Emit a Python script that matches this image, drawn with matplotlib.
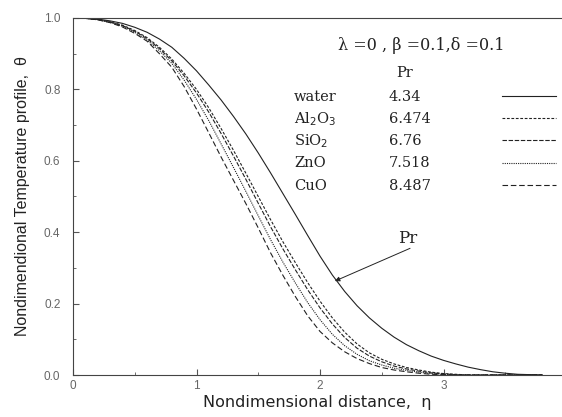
import matplotlib
matplotlib.use("Agg")
import matplotlib.pyplot as plt
from matplotlib.ticker import MultipleLocator
from matplotlib.lines import Line2D

# --- Data ---
eta = [0.0, 0.1, 0.2, 0.3, 0.4, 0.5, 0.6, 0.7, 0.8, 0.9,
       1.0, 1.1, 1.2, 1.3, 1.4, 1.5, 1.6, 1.7, 1.8, 1.9,
       2.0, 2.1, 2.2, 2.3, 2.4, 2.5, 2.6, 2.7, 2.8, 2.9,
       3.0, 3.1, 3.2, 3.3, 3.4, 3.5, 3.6, 3.7, 3.8]

theta_water = [1.000, 0.999, 0.997, 0.992, 0.985, 0.974, 0.960, 0.941, 0.918, 0.887,
               0.852, 0.812, 0.770, 0.724, 0.675, 0.622, 0.566, 0.508, 0.450, 0.391,
               0.333, 0.280, 0.234, 0.194, 0.160, 0.131, 0.106, 0.085, 0.068, 0.053,
               0.041, 0.031, 0.022, 0.015, 0.009, 0.005, 0.002, 0.001, 0.000]
theta_al2o3 = [1.000, 0.999, 0.996, 0.989, 0.980, 0.965, 0.945, 0.918, 0.885, 0.845,
               0.800, 0.748, 0.690, 0.629, 0.565, 0.500, 0.435, 0.373, 0.315, 0.259,
               0.207, 0.160, 0.120, 0.087, 0.062, 0.044, 0.031, 0.021, 0.014, 0.008,
               0.004, 0.002, 0.000, 0.000, 0.000, 0.000, 0.000, 0.000, 0.000]
theta_sio2 = [1.000, 0.999, 0.996, 0.989, 0.979, 0.963, 0.942, 0.914, 0.880, 0.838,
              0.790, 0.736, 0.676, 0.613, 0.548, 0.481, 0.415, 0.353, 0.295, 0.239,
              0.188, 0.143, 0.105, 0.075, 0.053, 0.037, 0.025, 0.017, 0.011, 0.006,
              0.003, 0.001, 0.000, 0.000, 0.000, 0.000, 0.000, 0.000, 0.000]
theta_zno = [1.000, 0.999, 0.995, 0.988, 0.977, 0.960, 0.938, 0.908, 0.873, 0.826,
             0.772, 0.712, 0.647, 0.581, 0.514, 0.446, 0.379, 0.316, 0.258, 0.203,
             0.155, 0.114, 0.082, 0.058, 0.040, 0.028, 0.019, 0.013, 0.008, 0.004,
             0.002, 0.001, 0.000, 0.000, 0.000, 0.000, 0.000, 0.000, 0.000]
theta_cuo = [1.000, 0.999, 0.995, 0.987, 0.975, 0.957, 0.935, 0.900, 0.862, 0.808,
             0.745, 0.678, 0.610, 0.545, 0.480, 0.412, 0.342, 0.279, 0.220, 0.166,
             0.122, 0.090, 0.065, 0.046, 0.032, 0.021, 0.014, 0.009, 0.005, 0.002,
             0.001, 0.000, 0.000, 0.000, 0.000, 0.000, 0.000, 0.000, 0.000]

fluids = ["water", "Al$_2$O$_3$", "SiO$_2$", "ZnO", "CuO"]
prandtl = ["4.34", "6.474", "6.76", "7.518", "8.487"]

# --- Styles ---
LINE_STYLES = ["-", (0, (2.5, 1.5)), (0, (4, 1.5)), (0, (1, 1)), (0, (5, 2.5))]
SERIF = "DejaVu Serif"
INK = "#222222"
TICK_GREY = "#666666"

fig = plt.figure(figsize=(5.62, 4.17), dpi=100)
ax = fig.add_axes([73 / 562, 42 / 417, 489 / 562, 357 / 417])

series = [theta_water, theta_al2o3, theta_sio2, theta_zno, theta_cuo]
handles = []
for vals, ls in zip(series, LINE_STYLES):
    ax.plot(eta, vals, color=INK, lw=0.8, linestyle=ls)
    handles.append(Line2D([], [], color=INK, lw=0.8, linestyle=ls))

ax.set_xlim(0, 489 / 123.5)
ax.set_ylim(0, 1.0)
ax.xaxis.set_major_locator(MultipleLocator(1))
ax.xaxis.set_minor_locator(MultipleLocator(0.5))
ax.yaxis.set_major_locator(MultipleLocator(0.2))
ax.yaxis.set_minor_locator(MultipleLocator(0.1))
ax.yaxis.set_major_formatter(plt.FormatStrFormatter("%.1f"))
ax.tick_params(which="both", direction="in", labelsize=8.5,
               labelcolor=TICK_GREY, color="#555555")
ax.tick_params(which="major", length=4)
ax.tick_params(which="minor", length=2.5)
ax.tick_params(axis="y", pad=9)
for lab in ax.get_xticklabels() + ax.get_yticklabels():
    lab.set_fontfamily("Liberation Sans")
ax.spines["right"].set_visible(False)
for s in ["left", "bottom", "top"]:
    ax.spines[s].set_color("#444444")
    ax.spines[s].set_linewidth(0.8)

ax.set_xlabel("Nondimensional distance,  η", fontsize=11.5,
              family="DejaVu Sans", labelpad=2, color=INK)
ax.set_ylabel("Nondimendional Temperature profile,  θ", fontsize=11.5,
              family="Liberation Sans", labelpad=10, color=INK)

# parameter line and table-style legend
ax.text(0.542, 0.924, "λ =0 , β =0.1,δ =0.1", transform=ax.transAxes,
        fontsize=11.5, family=SERIF, color=INK, va="center")
ax.text(0.66, 0.845, "Pr", transform=ax.transAxes, fontsize=10.5,
        family=SERIF, color=INK, va="center")
row_y = [0.78, 0.7175, 0.655, 0.5925, 0.53]
for name, pr, y in zip(fluids, prandtl, row_y):
    ax.text(0.452, y, name, transform=ax.transAxes, fontsize=10.5,
            family=SERIF, color=INK, va="center")
    ax.text(0.646, y, pr, transform=ax.transAxes, fontsize=10.5,
            family=SERIF, color=INK, va="center")
ax.legend(handles, [""] * len(handles), loc="upper left",
          bbox_to_anchor=(0.877, 0.797), frameon=False, handlelength=4.1,
          handletextpad=0, labelspacing=0.7, fontsize=9.5, borderaxespad=0,
          borderpad=0)

# arrow showing increasing Pr
ax.annotate("", xy=(2.10, 0.26), xytext=(2.75, 0.358),
            arrowprops=dict(arrowstyle="-|>", color=INK, lw=0.7,
                            mutation_scale=7))
ax.text(2.63, 0.37, "Pr", fontsize=12, family=SERIF, color=INK)

fig.savefig("out.png", dpi=100)
